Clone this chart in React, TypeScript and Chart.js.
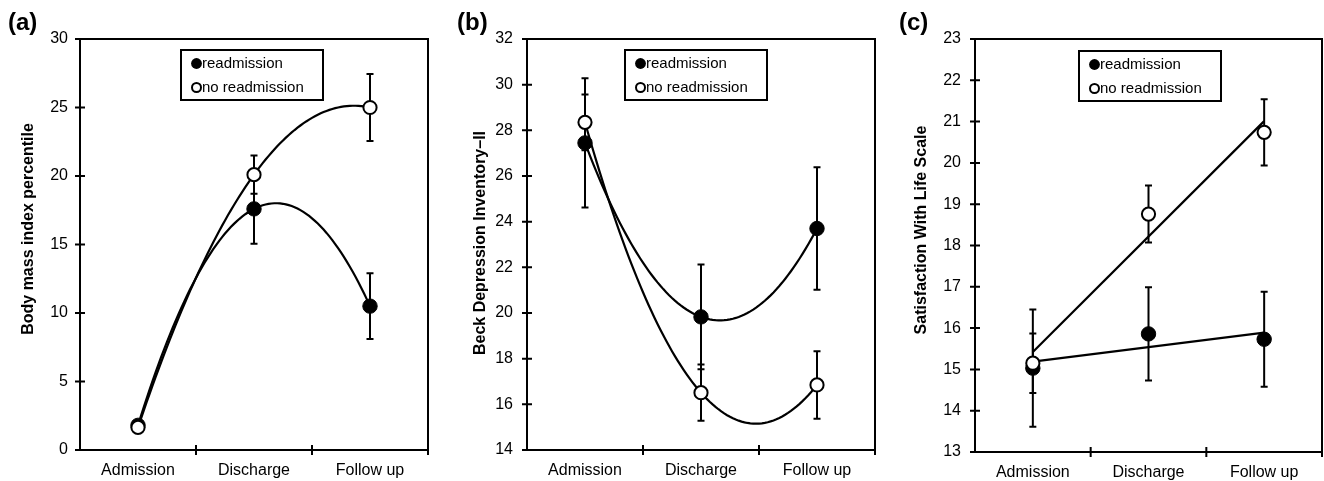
import React, { useEffect, useRef } from "react";
import { Chart, registerables } from "chart.js";

Chart.register(...registerables);

const FONT = '"Liberation Sans", Arial, Helvetica, sans-serif';

// Shared categories and series names
const categories = ["Admission", "Discharge", "Follow up"];
const seriesNames = ["readmission", "no readmission"];

// (a) Body mass index percentile: means and error half-widths
const bmiReadmission = [1.8, 17.6, 10.5];
const bmiReadmissionErr = [0.3, 2.55, 2.4];
const bmiNoReadmission = [1.65, 20.1, 25.0];
const bmiNoReadmissionErr = [0.3, 1.4, 2.45];
const bmiAxis = [0, 30, 5]; // min, max, step

// (b) Beck Depression Inventory-II
const bdiReadmission = [27.45, 19.83, 23.7];
const bdiReadmissionErr = [2.83, 2.29, 2.68];
const bdiNoReadmission = [28.35, 16.51, 16.85];
const bdiNoReadmissionErr = [1.22, 1.23, 1.48];
const bdiAxis = [14, 32, 2];

// (c) Satisfaction With Life Scale
const swlsReadmission = [15.03, 15.86, 15.73];
const swlsReadmissionErr = [1.42, 1.13, 1.15];
const swlsNoReadmission = [15.15, 18.76, 20.74];
const swlsNoReadmissionErr = [0.72, 0.69, 0.8];
const swlsAxis = [13, 23, 1];

// Least-squares polynomial fit; returns coefficients for x^0..x^degree
function polyFit(xs: number[], ys: number[], degree: number): number[] {
  const n = degree + 1;
  const A: number[][] = Array.from({ length: n }, () => new Array(n + 1).fill(0));
  for (let r = 0; r < n; r++) {
    for (let c = 0; c < n; c++) A[r][c] = xs.reduce((s, x) => s + Math.pow(x, r + c), 0);
    A[r][n] = xs.reduce((s, x, i) => s + ys[i] * Math.pow(x, r), 0);
  }
  for (let i = 0; i < n; i++) {
    let p = i;
    for (let k = i + 1; k < n; k++) if (Math.abs(A[k][i]) > Math.abs(A[p][i])) p = k;
    [A[i], A[p]] = [A[p], A[i]];
    for (let k = 0; k < n; k++) {
      if (k === i) continue;
      const f = A[k][i] / A[i][i];
      for (let j = i; j <= n; j++) A[k][j] -= f * A[i][j];
    }
  }
  return A.map((row, i) => row[n] / row[i]);
}

// Trend line over the three time points, fitted to the series means
function trendLine(ys: number[], degree: number) {
  const xs = ys.map((_, i) => i + 1);
  const coef = polyFit(xs, ys, degree);
  const first = xs[0];
  const last = xs[xs.length - 1];
  const steps = degree === 1 ? 1 : 80;
  const pts: { x: number; y: number }[] = [];
  for (let i = 0; i <= steps; i++) {
    const x = first + ((last - first) * i) / steps;
    const y = coef.reduce((s, c, k) => s + c * Math.pow(x, k), 0);
    pts.push({ x, y });
  }
  return pts;
}

const toPoints = (ys: number[]) => ys.map((y, i) => ({ x: i + 1, y }));

type Panel = {
  letter: string;
  yTitle: string;
  axis: number[];
  readm: number[];
  readmErr: number[];
  noReadm: number[];
  noReadmErr: number[];
  degree: number;
  left: number;
  width: number;
  area: { left: number; top: number; right: number; bottom: number };
  tickPad: number;
  titleX: number;
  titleY: number;
  legendX: number;
  legendY: number;
  letterX: number;
};

const panels: Panel[] = [
  {
    letter: "(a)",
    yTitle: "Body mass index percentile",
    axis: bmiAxis,
    readm: bmiReadmission,
    readmErr: bmiReadmissionErr,
    noReadm: bmiNoReadmission,
    noReadmErr: bmiNoReadmissionErr,
    degree: 2,
    left: 0,
    width: 441,
    area: { left: 80, top: 39, right: 428, bottom: 450 },
    tickPad: 12,
    titleX: 29,
    titleY: 229,
    legendX: 181,
    legendY: 50,
    letterX: 8,
  },
  {
    letter: "(b)",
    yTitle: "Beck Depression Inventory\u2013II",
    axis: bdiAxis,
    readm: bdiReadmission,
    readmErr: bdiReadmissionErr,
    noReadm: bdiNoReadmission,
    noReadmErr: bdiNoReadmissionErr,
    degree: 2,
    left: 441,
    width: 441,
    area: { left: 86, top: 39, right: 434, bottom: 450 },
    tickPad: 14,
    titleX: 40,
    titleY: 243,
    legendX: 184,
    legendY: 50,
    letterX: 16,
  },
  {
    letter: "(c)",
    yTitle: "Satisfaction With Life Scale",
    axis: swlsAxis,
    readm: swlsReadmission,
    readmErr: swlsReadmissionErr,
    noReadm: swlsNoReadmission,
    noReadmErr: swlsNoReadmissionErr,
    degree: 1,
    left: 882,
    width: 442,
    area: { left: 93, top: 39, right: 440, bottom: 452 },
    tickPad: 14,
    titleX: 39.5,
    titleY: 230,
    legendX: 197,
    legendY: 51,
    letterX: 17,
  },
];

// Vertical error bars with caps, drawn beneath the markers
const errorBarPlugin = {
  id: "errorBars",
  beforeDatasetsDraw(chart: any) {
    const { ctx, scales } = chart;
    ctx.save();
    ctx.strokeStyle = "#000";
    ctx.lineWidth = 2;
    chart.data.datasets.forEach((ds: any) => {
      if (!ds.errors) return;
      ds.data.forEach((p: any, i: number) => {
        const e = ds.errors[i];
        const x = scales.x.getPixelForValue(p.x);
        const yTop = scales.y.getPixelForValue(p.y + e);
        const yBot = scales.y.getPixelForValue(p.y - e);
        ctx.beginPath();
        ctx.moveTo(x, yTop);
        ctx.lineTo(x, yBot);
        ctx.moveTo(x - 3.5, yTop);
        ctx.lineTo(x + 3.5, yTop);
        ctx.moveTo(x - 3.5, yBot);
        ctx.lineTo(x + 3.5, yBot);
        ctx.stroke();
      });
    });
    ctx.restore();
  },
};

// Box around the plot, ticks crossing the axes, y-axis title and the legend box
function makeDecorPlugin(panel: Panel) {
  return {
    id: "decor",
    afterDraw(chart: any) {
      const { ctx, chartArea, scales } = chart;
      const { left, top, right, bottom } = chartArea;
      ctx.save();
      ctx.strokeStyle = "#000";
      ctx.lineWidth = 2;
      ctx.strokeRect(left, top, right - left, bottom - top);
      ctx.beginPath();
      scales.y.ticks.forEach((t: any) => {
        const y = scales.y.getPixelForValue(t.value);
        ctx.moveTo(left - 5, y);
        ctx.lineTo(left + 5, y);
      });
      [1.5, 2.5, 3.5].forEach((v) => {
        const x = scales.x.getPixelForValue(v);
        ctx.moveTo(x, bottom - 5);
        ctx.lineTo(x, bottom + 5);
      });
      ctx.stroke();

      // y-axis title
      ctx.fillStyle = "#000";
      ctx.font = `bold 16px ${FONT}`;
      ctx.textAlign = "center";
      ctx.textBaseline = "middle";
      ctx.translate(panel.titleX, panel.titleY);
      ctx.rotate(-Math.PI / 2);
      ctx.fillText(panel.yTitle, 0, 0);
      ctx.setTransform(1, 0, 0, 1, 0, 0);

      // legend
      const lx = panel.legendX;
      const ly = panel.legendY;
      ctx.lineWidth = 2;
      ctx.strokeRect(lx, ly, 142, 50);
      ctx.font = `15px ${FONT}`;
      ctx.textAlign = "left";
      const rows = [ly + 13.5, ly + 37.5];
      ctx.beginPath();
      ctx.arc(lx + 15.5, rows[0], 5.4, 0, Math.PI * 2);
      ctx.fill();
      ctx.beginPath();
      ctx.arc(lx + 15.5, rows[1], 4.5, 0, Math.PI * 2);
      ctx.fillStyle = "#fff";
      ctx.fill();
      ctx.stroke();
      ctx.fillStyle = "#000";
      ctx.fillText(seriesNames[0], lx + 21, rows[0] + 0.5);
      ctx.fillText(seriesNames[1], lx + 21, rows[1] + 0.5);
      ctx.restore();
    },
  };
}

function ChartPanel({ panel }: { panel: Panel }) {
  const ref = useRef<HTMLCanvasElement | null>(null);

  useEffect(() => {
    if (!ref.current) return;
    const [yMin, yMax, yStep] = panel.axis;
    const { area, width } = panel;
    const chart = new Chart(ref.current, {
      type: "line",
      data: {
        datasets: [
          {
            label: seriesNames[0] + " trend",
            data: trendLine(panel.readm, panel.degree),
            borderColor: "#000",
            borderWidth: 2.2,
            pointRadius: 0,
            tension: 0,
            fill: false,
            order: 4,
          },
          {
            label: seriesNames[1] + " trend",
            data: trendLine(panel.noReadm, panel.degree),
            borderColor: "#000",
            borderWidth: 2.2,
            pointRadius: 0,
            tension: 0,
            fill: false,
            order: 3,
          },
          {
            label: seriesNames[0],
            data: toPoints(panel.readm),
            errors: panel.readmErr,
            showLine: false,
            pointRadius: 7.2,
            pointBorderWidth: 1,
            pointBackgroundColor: "#000",
            pointBorderColor: "#000",
            order: 2,
          } as any,
          {
            label: seriesNames[1],
            data: toPoints(panel.noReadm),
            errors: panel.noReadmErr,
            showLine: false,
            pointRadius: 6.6,
            pointBorderWidth: 2,
            pointBackgroundColor: "#fff",
            pointBorderColor: "#000",
            order: 1,
          } as any,
        ],
      },
      options: {
        responsive: false,
        animation: false,
        events: [],
        layout: {
          autoPadding: false,
          padding: { left: 0, top: area.top, right: width - area.right, bottom: 0 },
        },
        plugins: {
          legend: { display: false },
          tooltip: { enabled: false },
        },
        scales: {
          x: {
            type: "linear",
            min: 0.5,
            max: 3.5,
            afterBuildTicks: (s: any) => {
              s.ticks = categories.map((_, i) => ({ value: i + 1 }));
            },
            afterFit: (s: any) => {
              s.height = 481 - area.bottom;
              s.paddingLeft = 0;
              s.paddingRight = 0;
            },
            ticks: {
              autoSkip: false,
              maxRotation: 0,
              padding: 11,
              color: "#000",
              font: { family: FONT, size: 16 },
              callback: (v: any) => categories[Math.round(Number(v)) - 1] ?? "",
            },
            grid: { display: false, drawTicks: false },
            border: { display: false },
          },
          y: {
            min: yMin,
            max: yMax,
            afterFit: (s: any) => {
              s.width = area.left;
              s.paddingTop = 0;
              s.paddingBottom = 0;
            },
            ticks: {
              stepSize: yStep,
              padding: panel.tickPad,
              color: "#000",
              font: { family: FONT, size: 16 },
            },
            grid: { display: false, drawTicks: false },
            border: { display: false },
          },
        },
      },
      plugins: [errorBarPlugin, makeDecorPlugin(panel)],
    } as any);
    return () => chart.destroy();
  }, [panel]);

  return (
    <div style={{ position: "absolute", left: panel.left, top: 0, width: panel.width, height: 481 }}>
      <canvas ref={ref} width={panel.width} height={481} style={{ display: "block" }} />
      <div
        style={{
          position: "absolute",
          left: panel.letterX,
          top: 10,
          fontFamily: FONT,
          fontWeight: "bold",
          fontSize: 24,
          lineHeight: "24px",
          color: "#000",
        }}
      >
        {panel.letter}
      </div>
    </div>
  );
}

export default function App() {
  return (
    <div
      style={{
        position: "absolute",
        left: 0,
        top: 0,
        width: 1324,
        height: 481,
        background: "#fff",
        overflow: "hidden",
      }}
    >
      {panels.map((p) => (
        <ChartPanel key={p.letter} panel={p} />
      ))}
    </div>
  );
}
